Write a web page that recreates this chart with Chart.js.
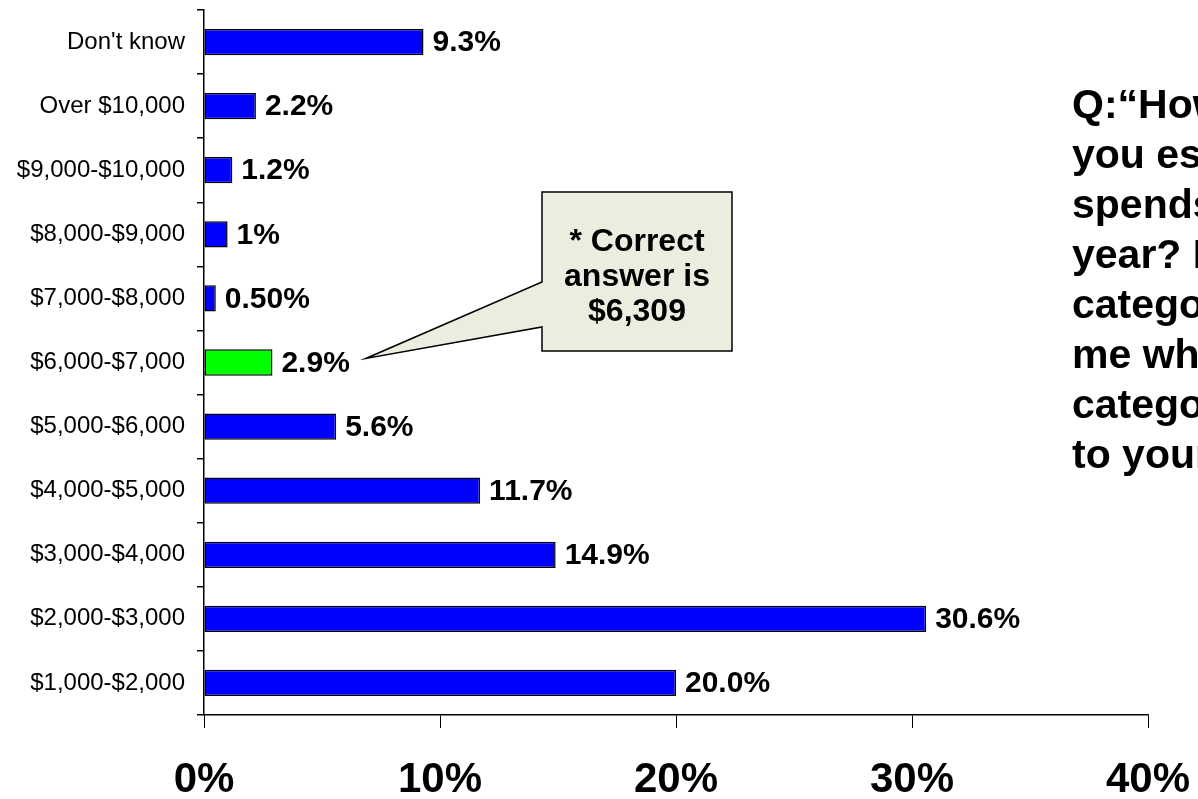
<!DOCTYPE html>
<html><head><meta charset="utf-8">
<script src="https://cdn.jsdelivr.net/npm/chart.js@4/dist/chart.umd.min.js"></script>
<style>html,body{margin:0;padding:0;background:#fff;overflow:hidden}#wrap{position:relative;width:1198px;height:799px}</style>
</head><body><div id="wrap"><canvas id="c" width="1198" height="799"></canvas></div>
<script>
const categories = ["Don't know","Over $10,000","$9,000-$10,000","$8,000-$9,000","$7,000-$8,000","$6,000-$7,000","$5,000-$6,000","$4,000-$5,000","$3,000-$4,000","$2,000-$3,000","$1,000-$2,000"];
const percentValues = [9.3, 2.2, 1.2, 1, 0.5, 2.9, 5.6, 11.7, 14.9, 30.6, 20.0];
const valueLabels = ["9.3%","2.2%","1.2%","1%","0.50%","2.9%","5.6%","11.7%","14.9%","30.6%","20.0%"];
const highlightCategory = "$6,000-$7,000";
const xTickValues = [0, 10, 20, 30, 40];
const calloutLines = ["* Correct", "answer is", "$6,309"];
const questionLines = ["Q:\u201CHow much do", "you estimate the", "spends per", "year? I'll read", "categories. Please", "me which", "category comes", "to your estimate.\u201D"];

const FONT = '"Liberation Sans", Arial, Helvetica, sans-serif';
Chart.defaults.font.family = FONT;
Chart.defaults.color = '#000';

function noPad(s) { s.paddingLeft = 0; s.paddingRight = 0; s.paddingTop = 0; s.paddingBottom = 0; }

const overlay = {
  id: 'overlay',
  afterDatasetsDraw(chart) {
    const ctx = chart.ctx;
    const meta = chart.getDatasetMeta(0);
    ctx.save();
    // value labels
    ctx.font = 'bold 30px ' + FONT;
    ctx.fillStyle = '#000';
    ctx.textAlign = 'left';
    ctx.textBaseline = 'middle';
    meta.data.forEach((bar, i) => {
      ctx.fillText(valueLabels[i], bar.x + 9, bar.y + 1);
    });
    // callout anchored on highlighted bar label
    const hi = categories.indexOf(highlightCategory);
    const hb = meta.data[hi];
    const tipX = hb.x + 9 + ctx.measureText(valueLabels[hi]).width + 16;
    const tipY = hb.y - 4;
    const bl = 542, bt = 192, bw = 190, bh = 159;
    ctx.beginPath();
    ctx.moveTo(bl, bt);
    ctx.lineTo(bl + bw, bt);
    ctx.lineTo(bl + bw, bt + bh);
    ctx.lineTo(bl, bt + bh);
    ctx.lineTo(bl, 327);
    ctx.lineTo(tipX, tipY);
    ctx.lineTo(bl, 282);
    ctx.closePath();
    ctx.fillStyle = '#EDEDDF';
    ctx.fill();
    ctx.lineWidth = 1.5;
    ctx.strokeStyle = '#000';
    ctx.stroke();
    ctx.fillStyle = '#000';
    ctx.font = 'bold 32px ' + FONT;
    ctx.textAlign = 'center';
    calloutLines.forEach((t, i) => ctx.fillText(t, bl + bw / 2, 242 + i * 35));
    // question text (clipped by canvas edge)
    ctx.font = 'bold 41px ' + FONT;
    ctx.textAlign = 'left';
    ctx.textBaseline = 'alphabetic';
    questionLines.forEach((t, i) => ctx.fillText(t, 1072, 118 + i * 50));
    ctx.restore();
  }
};

new Chart(document.getElementById('c'), {
  type: 'bar',
  data: {
    labels: categories,
    datasets: [{
      data: percentValues,
      backgroundColor: categories.map(c => c === highlightCategory ? '#00FF00' : '#0000FF'),
      borderColor: '#000',
      borderWidth: 1.5,
      borderSkipped: false,
      barPercentage: 0.41,
      categoryPercentage: 1
    }]
  },
  options: {
    indexAxis: 'y',
    responsive: false,
    animation: false,
    devicePixelRatio: 1,
    layout: { padding: { top: 10, right: 50, left: 0, bottom: 0 } },
    plugins: { legend: { display: false }, tooltip: { enabled: false } },
    scales: {
      x: {
        type: 'linear', position: 'bottom', min: 0, max: 40,
        afterBuildTicks: s => { s.ticks = xTickValues.map(v => ({ value: v })); },
        ticks: { callback: v => v + '%', font: { size: 42, weight: 'bold' }, color: '#000', padding: 27, maxRotation: 0, autoSkip: false },
        grid: { drawOnChartArea: false, drawTicks: true, tickLength: 13, color: '#000', lineWidth: 1 },
        border: { color: '#000', width: 1.5 },
        afterFit: s => { s.height = 84; noPad(s); }
      },
      y: {
        type: 'category',
        ticks: { font: { size: 24 }, color: '#000', padding: 12, autoSkip: false },
        grid: { offset: true, drawOnChartArea: false, tickLength: 7, color: '#000', lineWidth: 1.5 },
        border: { color: '#000', width: 1.5 },
        afterFit: s => { s.width = 204; noPad(s); }
      }
    }
  },
  plugins: [overlay]
});
</script></body></html>
